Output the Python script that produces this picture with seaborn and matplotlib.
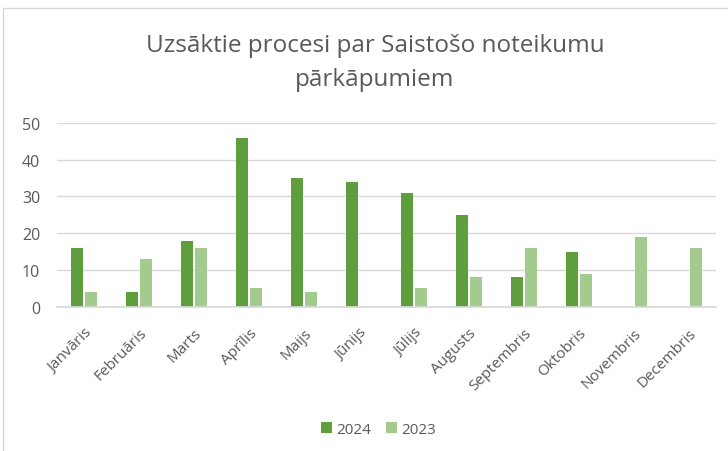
import numpy as np
import pandas as pd
import seaborn as sns
import matplotlib.pyplot as plt
from matplotlib.patches import Rectangle, Patch

# data
months = ["Janvāris", "Februāris", "Marts", "Aprīlis", "Maijs", "Jūnijs",
          "Jūlijs", "Augusts", "Septembris", "Oktobris", "Novembris", "Decembris"]
y2024 = [16, 4, 18, 46, 35, 34, 31, 25, 8, 15, np.nan, np.nan]
y2023 = [4, 13, 16, 5, 4, np.nan, 5, 8, 16, 9, 19, 16]
years = ["2024", "2023"]

df = pd.DataFrame({
    "month": months * 2,
    "value": y2024 + y2023,
    "year": [years[0]] * 12 + [years[1]] * 12,
})

palette = {"2024": "#5e9e3c", "2023": "#a3cb8e"}
text_col = "#595959"

sns.set_theme(style="white")
plt.rcParams["font.family"] = ["Open Sans", "DejaVu Sans"]

fig = plt.figure(figsize=(7.28, 4.52), dpi=100)
ax = fig.add_axes([0.078, 0.319, 0.906, 0.407])

sns.barplot(data=df, x="month", y="value", hue="year", palette=palette,
            width=0.51, gap=0.14, ax=ax, legend=False, saturation=1, linewidth=0)

ax.set_ylim(0, 50)
ax.set_yticks(range(0, 51, 10))
ax.set_xlim(-0.5, 11.5)
ax.grid(axis="y", color="#d9d9d9", lw=1)
ax.set_axisbelow(True)
for s in ["top", "right", "left"]:
    ax.spines[s].set_visible(False)
ax.spines["bottom"].set_color("#d9d9d9")
ax.set_xlabel("")
ax.set_ylabel("")
ax.tick_params(axis="y", colors=text_col, labelsize=11.5, length=0, pad=12)
ax.tick_params(axis="x", colors=text_col, labelsize=11, length=0, pad=13)
plt.setp(ax.get_xticklabels(), rotation=45, ha="right", rotation_mode="anchor")

fig.suptitle("Uzsāktie procesi par Saistošo noteikumu\npārkāpumiem",
             x=0.515, y=0.925, fontsize=17.5, color=text_col, linespacing=1.55)

handles = [Patch(facecolor=palette[y], edgecolor="none", label=y) for y in years]
fig.legend(handles=handles, loc="center", bbox_to_anchor=(0.52, 0.048), ncol=2,
           frameon=False, fontsize=11, labelcolor=text_col,
           handlelength=0.7, handleheight=0.7, handletextpad=0.3, columnspacing=1.0)

fig.patches.append(Rectangle((0.004, -0.05), 1.2, 1.03, transform=fig.transFigure,
                             fill=False, edgecolor="#d9d9d9", lw=1))

fig.savefig("out.png", dpi=100)
